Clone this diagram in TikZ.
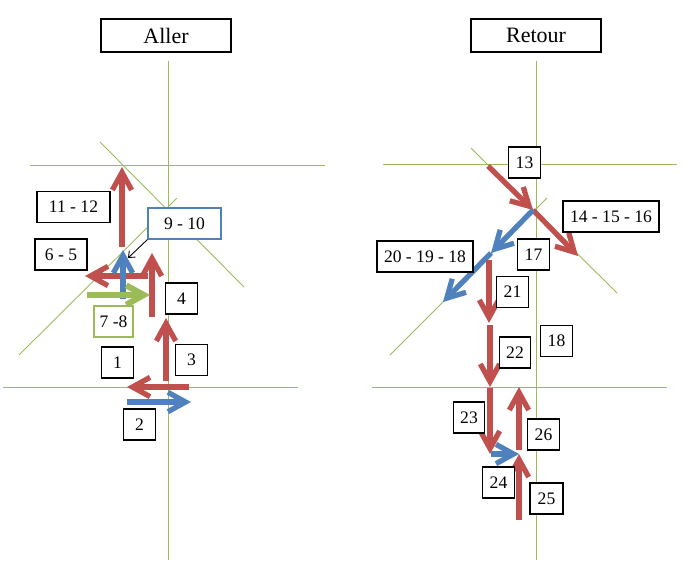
\documentclass[tikz,border=0pt]{standalone}
\usepackage{fontspec}
\setmainfont{Liberation Serif}
\usetikzlibrary{arrows.meta, positioning}

\definecolor{trajred}{HTML}{C0504D}
\definecolor{trajblue}{HTML}{4F81BD}
\definecolor{trajgreen}{HTML}{9BBB59}
\definecolor{axegreen}{HTML}{9BBB59}

\begin{document}
\begin{tikzpicture}[
    x=0.02cm, y=-0.02cm,
    axe/.style={draw=axegreen, line width=0.5pt},
    lbl/.style={rectangle, draw=black, line width=0.6pt, fill=white, minimum width=0.63cm, minimum height=0.62cm, inner sep=1pt, text centered, font=\fontsize{10}{12}\selectfont},
    titlebox/.style={lbl, minimum width=2.6cm, minimum height=0.66cm, font=\fontsize{12.5}{15}\selectfont},
    redarrow/.style={draw=trajred, line width=3pt, -{Straight Barb[length=10pt, width=11pt]}},
    bluearrow/.style={redarrow, draw=trajblue},
    greenarrow/.style={redarrow, draw=trajgreen, line width=3.4pt},
    pointer/.style={draw=black, line width=0.5pt, -{Straight Barb[length=3pt, width=5pt]}},
]
    \useasboundingbox (0,0) rectangle (699,575);

    % titles
    \node (aller) [titlebox] at (166,35.5) {Aller};
    \node (retour) [titlebox] at (536,35.5) {Retour};

    % axes, aller
    \draw [axe] (168,61) -- (168,560);
    \draw [axe] (30,165) -- (325,165);
    \draw [axe] (3,387) -- (298,387);
    \draw [axe] (100,142) -- (244,287);
    \draw [axe] (19,355) -- (177,198);

    % axes, retour
    \draw [axe] (536,61) -- (536,560);
    \draw [axe] (383,164) -- (677,164);
    \draw [axe] (372,387) -- (667,387);
    \draw [axe] (471,148) -- (617,293);
    \draw [axe] (547,198) -- (390,355);

    % aller path
    \coordinate (p0) at (189,387);
    \coordinate (p1) at (127,387);
    \draw [redarrow] (p0) -- (p1);
    \draw [bluearrow] (127,402) -- (191,402);
    \draw [redarrow] (166,381) -- (166,318);
    \draw [redarrow] (152,317) -- (152,253);
    \draw [redarrow] (148,276) -- (85,276);
    \draw [bluearrow] (123,299) -- (123,250);
    \draw [greenarrow] (87,295) -- (150,295);
    \draw [redarrow] (122,247) -- (122,167);

    % retour path
    \coordinate (cross) at (533,210);
    \coordinate (mid) at (491,253);
    \draw [redarrow] (488,166) -- (cross);
    \draw [redarrow] (cross) -- (578,256);
    \draw [bluearrow] (cross) -- (mid);
    \draw [bluearrow] (mid) -- (443,302);
    \draw [redarrow] (489,260) -- (489,323);
    \draw [redarrow] (490,325) -- (490,387);
    \draw [redarrow] (490,388) -- (490,454);
    \coordinate (turn) at (519,454);
    \draw [bluearrow] (491,454) -- (turn);
    \draw [redarrow] (519,520) -- (turn);
    \draw [redarrow] (519,450) -- (519,387);

    % labels, aller
    \node (l1112) [lbl, minimum width=1.46cm] at (73.5,207) {11 - 12};
    \node (l910) [lbl, draw=trajblue, minimum width=1.46cm] at (184.5,223.5) {9 - 10};
    \node (l65) [lbl, minimum width=1.04cm] at (61,254.5) {6 - 5};
    \node (l4) [lbl] at (181.5,298.5) {4};
    \node (l78) [lbl, draw=trajgreen, minimum width=0.78cm] at (113.5,321.5) {7 -8};
    \node (l1) [lbl] at (117.5,362.5) {1};
    \node (l3) [lbl] at (191.5,360) {3};
    \node (l2) [lbl] at (139.5,424.5) {2};
    \coordinate (tip910) at (128,258);
    \draw [pointer] (l910.south west) -- (tip910);

    % labels, retour
    \node (l13) [lbl] at (524.5,162.5) {13};
    \node (l141516) [lbl, minimum width=1.92cm] at (611,216.5) {14 - 15 - 16};
    \node (l201918) [lbl, minimum width=1.92cm] at (425,256.5) {20 - 19 - 18};
    \node (l17) [lbl] at (533.5,254.5) {17};
    \node (l21) [lbl] at (512.5,292) {21};
    \node (l22) [lbl] at (515,352.5) {22};
    \node (l18) [lbl] at (556.5,341) {18};
    \node (l23) [lbl] at (469,417.5) {23};
    \node (l24) [lbl] at (498.5,482.5) {24};
    \node (l25) [lbl, minimum width=0.66cm] at (546.5,498.5) {25};
    \node (l26) [lbl] at (543.5,434.5) {26};

\end{tikzpicture}
\end{document}
